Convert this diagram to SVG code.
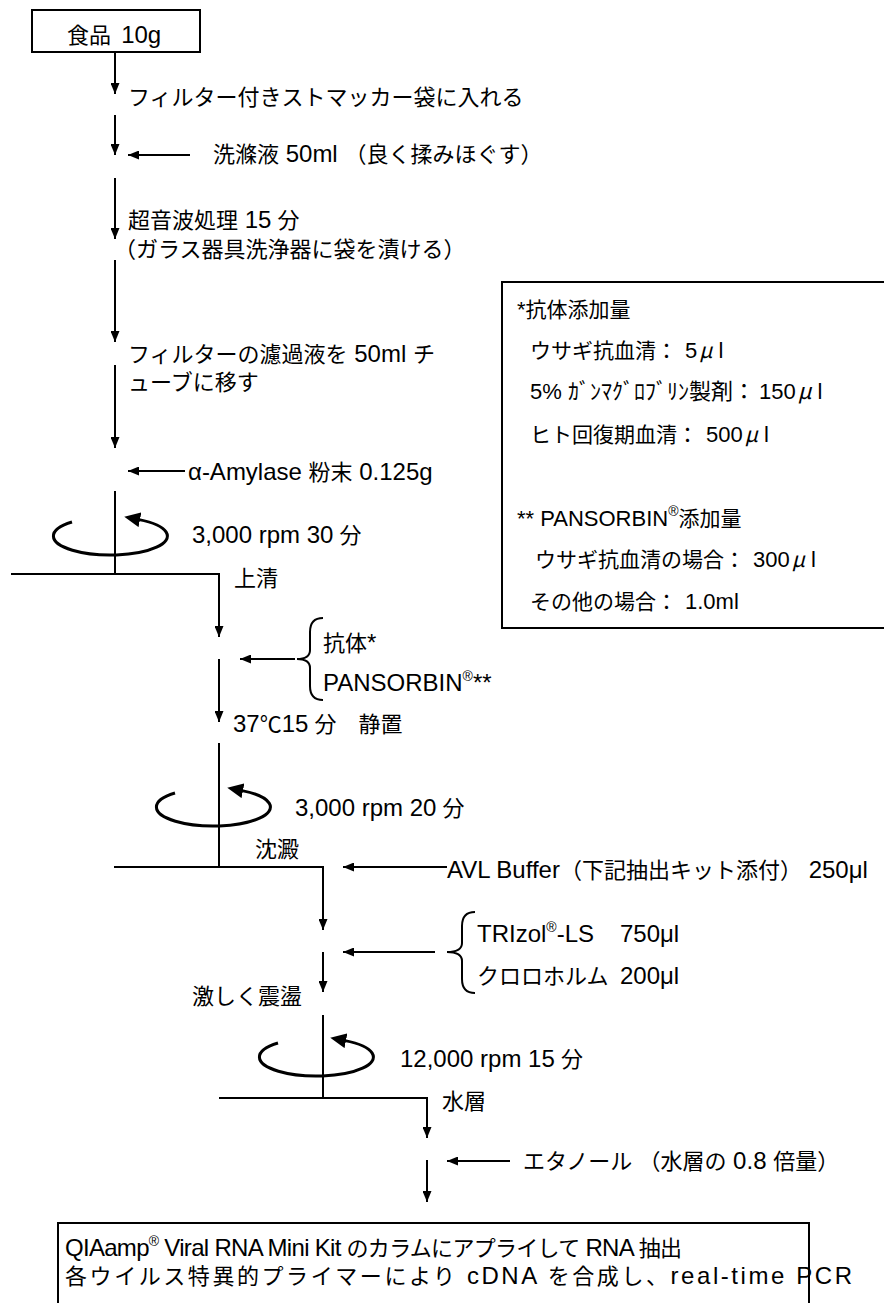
<svg xmlns="http://www.w3.org/2000/svg" width="884" height="1303" viewBox="0 0 884 1303">
<style>
.t{font-family:"Liberation Sans","Noto Sans CJK JP",sans-serif;font-size:22px;fill:#000}
.e{font-family:"Liberation Sans",sans-serif;font-size:24px}
.e2{font-family:"Liberation Sans",sans-serif;font-size:22px}
.s{font-size:21px}
.r{font-family:"Liberation Sans",sans-serif;font-size:14px}
.mu{font-family:"Noto Sans CJK JP",sans-serif;font-style:italic}
.ln{fill:none;stroke:#000;stroke-width:2}
.box{fill:none;stroke:#000;stroke-width:2}
.loop{fill:none;stroke:#000;stroke-width:3}
</style>
<defs>
<marker id="ah" viewBox="0 0 11 9" refX="11" refY="4.5" markerWidth="11" markerHeight="9" markerUnits="userSpaceOnUse" orient="auto">
<path d="M0,0 L11,4.5 L0,9 z" fill="#000"/>
</marker>
<marker id="ahL" viewBox="0 0 16 15" refX="1" refY="7.5" markerWidth="16" markerHeight="15" markerUnits="userSpaceOnUse" orient="auto">
<path d="M0,0 L16,7.5 L0,15 z" fill="#000"/>
</marker>
<g id="spin">
<path class="loop" d="M72,522 A57,19 0 1 0 139,519.6" marker-end="url(#ahL)"/>
</g>
</defs>
<rect x="0" y="0" width="884" height="1303" fill="#fff"/>

<g id="centrifuges">
<use href="#spin"/>
<use href="#spin" x="103" y="271"/>
<use href="#spin" x="206" y="521"/>
</g>

<g id="connectors">
<line class="ln" x1="115" y1="52" x2="115" y2="94" marker-end="url(#ah)"/>
<line class="ln" x1="115" y1="115" x2="115" y2="155" marker-end="url(#ah)"/>
<line class="ln" x1="190" y1="155" x2="128" y2="155" marker-end="url(#ah)"/>
<line class="ln" x1="115" y1="178" x2="115" y2="239" marker-end="url(#ah)"/>
<line class="ln" x1="115" y1="260" x2="115" y2="342" marker-end="url(#ah)"/>
<line class="ln" x1="115" y1="365" x2="115" y2="448" marker-end="url(#ah)"/>
<line class="ln" x1="185" y1="471" x2="128" y2="471" marker-end="url(#ah)"/>
<line class="ln" x1="115" y1="491" x2="115" y2="574"/>
<path class="ln" d="M11,574 H219 V637" marker-end="url(#ah)"/>
<line class="ln" x1="219" y1="659" x2="219" y2="722" marker-end="url(#ah)"/>
<line class="ln" x1="295" y1="659" x2="240" y2="659" marker-end="url(#ah)"/>
<path class="ln" d="M323,618 Q310,618 310,632 V650 Q310,659 297,659 Q310,659 310,668 V686 Q310,700 323,700"/>
<line class="ln" x1="219" y1="743" x2="219" y2="867"/>
<path class="ln" d="M114,867 H323 V930" marker-end="url(#ah)"/>
<line class="ln" x1="447" y1="867" x2="343" y2="867" marker-end="url(#ah)"/>
<line class="ln" x1="323" y1="952" x2="323" y2="992" marker-end="url(#ah)"/>
<line class="ln" x1="435" y1="952" x2="343" y2="952" marker-end="url(#ah)"/>
<path class="ln" d="M475,912 Q462,912 462,926 V943 Q462,952 447,952 Q462,952 462,961 V979 Q462,993 475,993"/>
<line class="ln" x1="323" y1="1015" x2="323" y2="1098"/>
<path class="ln" d="M219,1098 H427 V1138" marker-end="url(#ah)"/>
<line class="ln" x1="427" y1="1160" x2="427" y2="1202" marker-end="url(#ah)"/>
<line class="ln" x1="510" y1="1161" x2="447" y2="1161" marker-end="url(#ah)"/>
</g>

<g id="n-food"><rect class="box" x="32" y="10" width="168" height="42"/><text class="t" x="67" y="43">食品 <tspan class="e" dx="4">10g</tspan></text></g>
<g id="n-bag"><text class="t" x="128" y="105">フィルター付きストマッカー袋に入れる</text></g>
<g id="n-wash"><text class="t" x="213" y="162">洗滌液<tspan class="e"> 50ml </tspan>（良く揉みほぐす）</text></g>
<g id="n-sonic"><text class="t" x="128" y="228">超音波処理<tspan class="e">  15</tspan> 分</text>
<text class="t" x="114" y="257">（ガラス器具洗浄器に袋を漬ける）</text></g>
<g id="n-filter"><text class="t" x="128" y="362">フィルターの濾過液を<tspan class="e"> 50ml </tspan>チ</text>
<text class="t" x="128" y="390">ューブに移す</text></g>
<g id="n-amylase"><text class="t" x="188" y="480"><tspan class="e">α-Amylase </tspan>粉末<tspan class="e">  0.125g</tspan></text></g>
<g id="n-spin1"><text class="t" x="192" y="543"><tspan class="e">3,000 rpm 30</tspan> 分</text>
<text class="t" x="234" y="586">上清</text></g>
<g id="n-antibody"><text class="t" x="323" y="651">抗体<tspan class="e">*</tspan></text>
<text class="t" x="323" y="691"><tspan class="e">PANSORBIN</tspan><tspan class="r" dy="-10">®</tspan><tspan class="e" dy="10">**</tspan></text></g>
<g id="n-incubate"><text class="t" x="233" y="732"><tspan class="e">37</tspan>℃<tspan class="e">15</tspan> 分　静置</text></g>
<g id="n-spin2"><text class="t" x="295" y="816"><tspan class="e">3,000 rpm 20</tspan> 分</text>
<text class="t" x="255" y="857">沈澱</text></g>
<g id="n-avl"><text class="t" x="447" y="878"><tspan class="e">AVL Buffer</tspan>（下記抽出キット添付）<tspan class="e"> 250μl</tspan></text></g>
<g id="n-trizol"><text class="t" x="477" y="942"><tspan class="e">TRIzol</tspan><tspan class="r" dy="-10">®</tspan><tspan class="e" dy="10">-LS</tspan><tspan class="e" x="620">750μl</tspan></text>
<text class="t" x="477" y="984">クロロホルム <tspan class="e" x="620">200μl</tspan></text></g>
<g id="n-shake"><text class="t" x="192" y="1004">激しく震盪</text></g>
<g id="n-spin3"><text class="t" x="400" y="1067"><tspan class="e">12,000 rpm 15</tspan> 分</text>
<text class="t" x="442" y="1109">水層</text></g>
<g id="n-ethanol"><text class="t" x="523" y="1169">エタノール （水層の<tspan class="e"> 0.8 </tspan>倍量）</text></g>
<g id="n-kit"><rect class="box" x="58" y="1223" width="751" height="120"/>
<text class="t" x="65" y="1256" textLength="617" lengthAdjust="spacing"><tspan class="e">QIAamp</tspan><tspan class="r" dy="-10">®</tspan><tspan class="e" dy="10"> Viral RNA Mini Kit </tspan>のカラムにアプライして<tspan class="e"> RNA </tspan>抽出</text>
<text class="t" x="65" y="1284" textLength="787" lengthAdjust="spacing">各ウイルス特異的プライマーにより<tspan class="e"> cDNA </tspan>を合成し、<tspan class="e">real-time PCR</tspan></text></g>

<g id="n-note"><rect class="box" x="502" y="282" width="400" height="346"/>
<text class="t s" x="517" y="317"><tspan class="e2">*</tspan>抗体添加量</text>
<text class="t s" x="530" y="358">ウサギ抗血清：<tspan class="e2" dx="8">5</tspan><tspan class="mu" dx="2">μ</tspan><tspan class="e2" dx="6">l</tspan></text>
<text class="t" x="530" y="399" font-size="19"><tspan class="e2" font-size="20">5% </tspan>ｶﾞﾝﾏｸﾞﾛﾌﾞﾘﾝ製剤：<tspan class="e2" dx="4">150</tspan><tspan class="mu" dx="2">μ</tspan><tspan class="e2" dx="6">l</tspan></text>
<text class="t s" x="530" y="442">ヒト回復期血清：<tspan class="e2" dx="8">500</tspan><tspan class="mu" dx="2">μ</tspan><tspan class="e2" dx="6">l</tspan></text>
<text class="t s" x="517" y="526"><tspan class="e2">** PANSORBIN</tspan><tspan class="r" dy="-10">®</tspan><tspan dy="10">添加量</tspan></text>
<text class="t s" x="535" y="567">ウサギ抗血清の場合：<tspan class="e2" dx="8">300</tspan><tspan class="mu" dx="2">μ</tspan><tspan class="e2" dx="6">l</tspan></text>
<text class="t s" x="530" y="609">その他の場合：<tspan class="e2" dx="8">1.0ml</tspan></text>
</g>
</svg>
